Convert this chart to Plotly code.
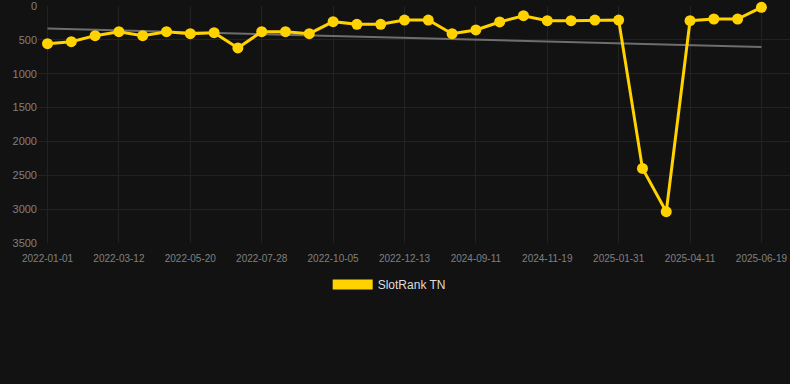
import numpy as np
import plotly.graph_objects as go

dates = ["2022-01-01", "2022-01-24", "2022-02-17", "2022-03-12", "2022-04-04", "2022-04-27",
         "2022-05-20", "2022-06-12", "2022-07-05", "2022-07-28", "2022-08-20", "2022-09-12",
         "2022-10-05", "2022-10-28", "2022-11-20", "2022-12-13", "2023-01-05", "2024-08-19",
         "2024-09-11", "2024-10-04", "2024-10-27", "2024-11-19", "2024-12-12", "2025-01-08",
         "2025-01-31", "2025-02-23", "2025-03-18", "2025-04-11", "2025-05-04", "2025-05-27",
         "2025-06-19"]
ranks = [557, 527, 438, 379, 438, 379, 409, 394, 620, 379, 379, 409, 231, 271, 271, 207,
         207, 409, 354, 236, 143, 217, 217, 207, 207, 2398, 3038, 217, 192, 192, 19]
tick_labels = ["2022-01-01", "2022-03-12", "2022-05-20", "2022-07-28", "2022-10-05",
               "2022-12-13", "2024-09-11", "2024-11-19", "2025-01-31", "2025-04-11",
               "2025-06-19"]
y_ticks = [0, 500, 1000, 1500, 2000, 2500, 3000, 3500]

idx = np.arange(len(ranks))
slope, intercept = np.polyfit(idx, ranks, 1)
trend = slope * idx + intercept

fig = go.Figure()
fig.add_trace(go.Scatter(x=dates, y=trend, mode="lines",
                         line=dict(color="#6e6e6e", width=2), showlegend=False,
                         hoverinfo="skip"))
fig.add_trace(go.Scatter(x=dates, y=ranks, mode="lines+markers",
                         line=dict(color="#FFD200", width=3),
                         marker=dict(color="#FFD200", size=11),
                         name="SlotRank TN", showlegend=False, cliponaxis=False))
fig.add_trace(go.Scatter(x=[None], y=[None], mode="lines",
                         line=dict(color="#FFD200", width=11),
                         name="SlotRank TN", showlegend=True))

fig.update_layout(
    width=790, height=384,
    paper_bgcolor="#121212", plot_bgcolor="#121212",
    margin=dict(l=38, r=0, t=6, b=141),
    font=dict(family="Arial, Liberation Sans, sans-serif", color="#808080"),
    showlegend=True,
    legend=dict(orientation="h", x=0.467, xanchor="center", y=-0.114, yanchor="top",
                font=dict(size=12, color="#dddddd"), itemwidth=40,
                bgcolor="rgba(0,0,0,0)"),
    xaxis=dict(type="category", categoryorder="array", categoryarray=dates,
               range=[-0.4, 31.2], tickvals=tick_labels, ticktext=tick_labels,
               tickfont=dict(size=10, color="#808080"), showgrid=True,
               gridcolor="#222222", zeroline=False, showline=False, ticks="",
               ticklabelstandoff=8),
    yaxis=dict(range=[3500, 0], tickvals=y_ticks, tickfont=dict(size=11, color="#808080"),
               showgrid=True, gridcolor="#222222", zeroline=False, ticks="",
               showline=False, ticklabeloverflow="allow"),
)

fig.write_html("out.html")
